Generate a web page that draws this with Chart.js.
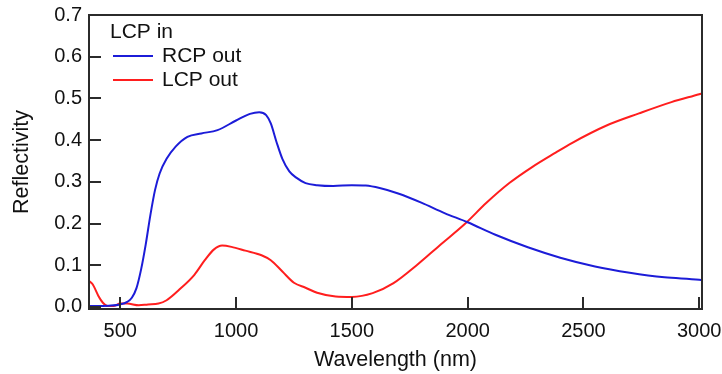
<!DOCTYPE html>
<html>
<head>
<meta charset="utf-8">
<script src="https://cdn.jsdelivr.net/npm/chart.js@4"></script>
<style>
  html, body { margin: 0; padding: 0; background: #fff; }
  #wrap { width: 722px; height: 374px; }
</style>
</head>
<body>
<div id="wrap"><canvas id="c" width="722" height="374"></canvas></div>
<script>
const legendTitle = 'LCP in';
const seriesLabels = ['RCP out', 'LCP out'];
const seriesColors = ['#1c1cd8', '#ff1e1e'];

const rcpWavelength = [365, 400, 450, 500, 530, 550, 570, 590, 610, 630, 650, 670, 700, 740, 790, 850, 920, 1000, 1060, 1100, 1130, 1150, 1175, 1200, 1230, 1260, 1300, 1350, 1420, 1500, 1560, 1620, 1700, 1800, 1900, 2000, 2120, 2260, 2400, 2550, 2700, 2850, 3000, 3012];
const rcpReflectivity = [0.002, 0.002, 0.003, 0.006, 0.012, 0.022, 0.045, 0.09, 0.15, 0.22, 0.28, 0.32, 0.355, 0.385, 0.408, 0.416, 0.424, 0.447, 0.463, 0.467, 0.46, 0.44, 0.395, 0.355, 0.325, 0.31, 0.297, 0.292, 0.29, 0.292, 0.291, 0.285, 0.272, 0.25, 0.225, 0.203, 0.173, 0.143, 0.118, 0.097, 0.082, 0.071, 0.065, 0.064];

const lcpWavelength = [365, 380, 405, 425, 445, 470, 500, 530, 580, 620, 665, 700, 760, 820, 865, 905, 940, 980, 1040, 1110, 1150, 1200, 1250, 1300, 1350, 1430, 1500, 1590, 1680, 1780, 1880, 1990, 2080, 2180, 2280, 2380, 2450, 2600, 2740, 2880, 3000, 3012];
const lcpReflectivity = [0.062, 0.055, 0.027, 0.01, 0.002, 0.002, 0.008, 0.008, 0.004, 0.006, 0.008, 0.016, 0.044, 0.077, 0.112, 0.138, 0.147, 0.144, 0.135, 0.124, 0.112, 0.085, 0.058, 0.046, 0.034, 0.025, 0.024, 0.033, 0.057, 0.1, 0.148, 0.2, 0.249, 0.297, 0.336, 0.37, 0.393, 0.435, 0.464, 0.491, 0.51, 0.512];

const xTicks = [500, 1000, 1500, 2000, 2500, 3000];
const yTicks = [0, 0.1, 0.2, 0.3, 0.4, 0.5, 0.6, 0.7];
const xTitle = 'Wavelength (nm)';
const yTitle = 'Reflectivity';

const FONT = "'Liberation Sans', Arial, sans-serif";
const AXIS_COLOR = '#2b2b2b';
const TEXT_COLOR = '#111111';

function pts(xs, ys) { return xs.map((x, i) => ({ x: x, y: ys[i] })); }

const framePlugin = {
  id: 'frameTicks',
  afterDatasetsDraw(chart) {
    const { ctx, chartArea: a, scales } = chart;
    ctx.save();
    ctx.strokeStyle = AXIS_COLOR;
    ctx.lineWidth = 2;
    ctx.beginPath();
    xTicks.forEach(v => {
      const px = Math.round(scales.x.getPixelForValue(v));
      ctx.moveTo(px, a.bottom);
      ctx.lineTo(px, a.bottom - 12);
    });
    yTicks.forEach(v => {
      const py = Math.round(scales.y.getPixelForValue(v));
      ctx.moveTo(a.left, py);
      ctx.lineTo(a.left + 12, py);
    });
    ctx.stroke();
    ctx.strokeRect(a.left, a.top, a.right - a.left, a.bottom - a.top);

    // legend
    ctx.fillStyle = TEXT_COLOR;
    ctx.font = '21px ' + FONT;
    ctx.textBaseline = 'middle';
    ctx.textAlign = 'left';
    ctx.fillText(legendTitle, 110, 32);
    chart.data.datasets.forEach((ds, i) => {
      const y = 56 + i * 24;
      ctx.strokeStyle = ds.borderColor;
      ctx.lineWidth = 2;
      ctx.beginPath();
      ctx.moveTo(113, y);
      ctx.lineTo(153, y);
      ctx.stroke();
      ctx.fillText(ds.label, 162, y);
    });
    ctx.restore();
  }
};

new Chart(document.getElementById('c'), {
  type: 'line',
  data: {
    datasets: [
      { label: seriesLabels[0], data: pts(rcpWavelength, rcpReflectivity), borderColor: seriesColors[0], borderWidth: 2, pointRadius: 0, cubicInterpolationMode: 'monotone', fill: false },
      { label: seriesLabels[1], data: pts(lcpWavelength, lcpReflectivity), borderColor: seriesColors[1], borderWidth: 2, pointRadius: 0, cubicInterpolationMode: 'monotone', fill: false }
    ]
  },
  options: {
    responsive: false,
    animation: false,
    events: [],
    layout: { padding: { left: 0, right: 20, top: 15, bottom: 0 } },
    plugins: { legend: { display: false }, tooltip: { enabled: false } },
    scales: {
      x: {
        type: 'linear',
        min: 365,
        max: 3012,
        afterBuildTicks: s => { s.ticks = xTicks.map(v => ({ value: v })); },
        afterFit: s => { s.height = 65; s.paddingLeft = 0; s.paddingRight = 0; },
        grid: { display: false, drawTicks: false },
        border: { display: false },
        ticks: { color: TEXT_COLOR, font: { family: FONT, size: 20 }, padding: 10, maxRotation: 0, autoSkip: false, callback: v => String(v) },
        title: { display: true, text: xTitle, color: TEXT_COLOR, font: { family: FONT, size: 21.5 }, padding: { top: 0, bottom: 1 } }
      },
      y: {
        type: 'linear',
        min: -0.005,
        max: 0.7,
        afterBuildTicks: s => { s.ticks = yTicks.map(v => ({ value: v })); },
        afterFit: s => { s.width = 89; s.paddingTop = 0; s.paddingBottom = 0; },
        grid: { display: false, drawTicks: false },
        border: { display: false },
        ticks: { color: TEXT_COLOR, font: { family: FONT, size: 20 }, padding: 7, autoSkip: false, callback: v => v.toFixed(1) },
        title: { display: true, text: yTitle, color: TEXT_COLOR, font: { family: FONT, size: 21.5 }, padding: { top: 9, bottom: 0 } }
      }
    }
  },
  plugins: [framePlugin]
});
</script>
</body>
</html>
